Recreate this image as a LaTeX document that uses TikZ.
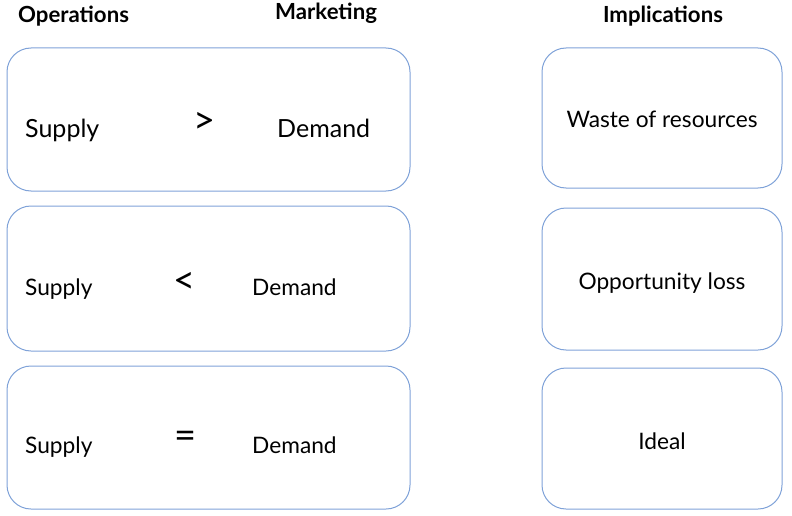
\documentclass[tikz,border=0pt]{standalone}
\usepackage{fontspec}
\setmainfont{Lato}
\definecolor{boxblue}{HTML}{7FA2D8}
\begin{document}
\begin{tikzpicture}[x=1pt,y=-1pt,
  box/.style={draw=boxblue,line width=1pt,rounded corners=24pt},
  title/.style={font=\fontsize{22.2}{26}\selectfont\bfseries,inner sep=0pt},
  big/.style={font=\fontsize{25}{30}\selectfont,inner sep=0pt},
  mid/.style={font=\fontsize{22.7}{27}\selectfont,inner sep=0pt},
  op/.style={font=\fontsize{38}{42}\selectfont,inner sep=0pt}]
\useasboundingbox (0,0) rectangle (792,516);
% left boxes
\draw[box] (7,48) rectangle (410,191);
\draw[box] (7,206) rectangle (410,351);
\draw[box] (7,366) rectangle (410,509);
% right boxes
\draw[box] (542,48) rectangle (782,188);
\draw[box] (542,208) rectangle (782,350);
\draw[box] (542,368) rectangle (782,509);
% titles
\node[title,anchor=base west] (ops) at (18,23) {Operations};
\node[title,anchor=base west] (mkt) at (275,20) {Marketing};
\node[title,anchor=base] (imp) at (663,23) {Implications};
% row 1
\node[big,anchor=base west] (s1) at (25,137) {Supply};
\node[op] (o1) at (205,123) {>};
\node[big,anchor=base west] (d1) at (277,137) {Demand};
% row 2
\node[mid,anchor=base west] (s2) at (25,295) {Supply};
\node[op] (o2) at (185,283) {<};
\node[mid,anchor=base west] (d2) at (252,295) {Demand};
% row 3
\node[mid,anchor=base west] (s3) at (25,453) {Supply};
\node[op] (o3) at (186,440) {=};
\node[mid,anchor=base west] (d3) at (252,453) {Demand};
% implications
\node[mid,anchor=base] (i1) at (662,128) {Waste of resources};
\node[mid,anchor=base] (i2) at (662,289) {Opportunity loss};
\node[mid,anchor=base] (i3) at (662,449) {Ideal};
\end{tikzpicture}
\end{document}
